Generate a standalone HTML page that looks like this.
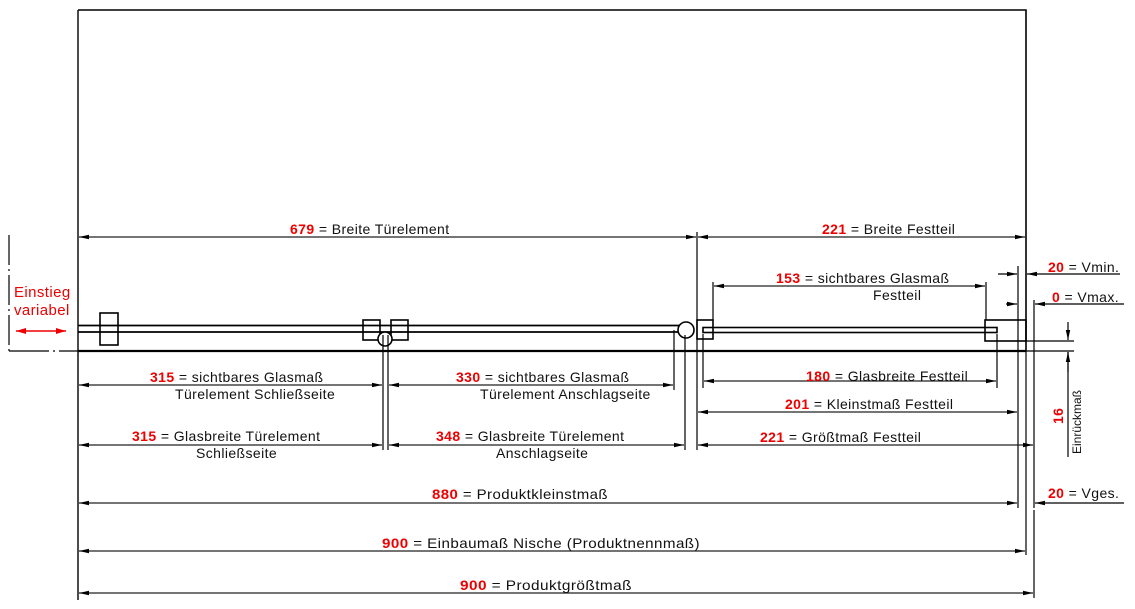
<!DOCTYPE html>
<html><head><meta charset="utf-8"><style>
html,body{margin:0;padding:0;background:#fff;}
svg{display:block;font-family:"Liberation Sans",sans-serif;}
.r{fill:#e00;font-weight:bold;}
text{font-size:14px;fill:#111;letter-spacing:0.4px;}
</style></head><body>
<svg width="1135" height="609" viewBox="0 0 1135 609" xmlns="http://www.w3.org/2000/svg">
<defs>
<marker id="a" viewBox="0 0 10 6" refX="10" refY="3" markerWidth="10" markerHeight="6" orient="auto-start-reverse" markerUnits="userSpaceOnUse"><path d="M0,0.8 L10,3 L0,5.2z" fill="#000"/></marker>
<marker id="ar" viewBox="0 0 10 6" refX="10" refY="3" markerWidth="10" markerHeight="6" orient="auto-start-reverse" markerUnits="userSpaceOnUse"><path d="M0,0 L10,3 L0,6z" fill="#e00"/></marker>
</defs>
<g fill="none" stroke="#000">
<path d="M78,10 H1026 V351" stroke-width="1.6"/>
<line x1="78" y1="10" x2="78" y2="600" stroke-width="1.4"/>
<line x1="78" y1="351" x2="1026" y2="351" stroke-width="2.2"/>
<line x1="1026" y1="351" x2="1026" y2="555" stroke-width="1.2"/>
<line x1="78" y1="325.5" x2="685" y2="325.5" stroke-width="1.8"/>
<line x1="78" y1="332" x2="685" y2="332" stroke-width="1.8"/>
<rect x="100" y="313" width="18" height="32" stroke-width="1.6"/>
<rect x="363" y="320" width="17" height="20" stroke-width="1.6"/>
<rect x="391" y="320" width="17" height="20" stroke-width="1.6"/>
<circle cx="385" cy="339" r="7" stroke-width="1.6" fill="#fff"/>
<circle cx="686" cy="330" r="8" stroke-width="1.6" fill="#fff"/>
<rect x="697" y="320" width="16" height="19" stroke-width="1.6"/>
<rect x="703" y="327.5" width="294" height="5" stroke-width="1.6"/>
<rect x="985" y="320" width="41" height="21" stroke-width="1.6"/>
<g stroke-width="1.2">
<line x1="383" y1="335" x2="383" y2="450"/><line x1="388" y1="335" x2="388" y2="450"/>
<line x1="674" y1="330" x2="674" y2="390"/>
<line x1="685" y1="335" x2="685" y2="450"/>
<line x1="697" y1="232" x2="697" y2="450"/>
<line x1="703" y1="334" x2="703" y2="388"/>
<line x1="713" y1="282" x2="713" y2="320"/>
<line x1="986" y1="282" x2="986" y2="320"/>
<line x1="997" y1="334" x2="997" y2="388"/>
<line x1="1018" y1="266" x2="1018" y2="508"/>
<line x1="1034" y1="300" x2="1034" y2="508"/>
<line x1="1034" y1="510" x2="1034" y2="598"/>
<line x1="1026" y1="341" x2="1074" y2="341"/><line x1="1026" y1="351" x2="1074" y2="351"/>
<line x1="1068" y1="322" x2="1068" y2="340" marker-end="url(#a)"/>
<line x1="1068" y1="372" x2="1068" y2="352" marker-end="url(#a)"/>
<line x1="1068" y1="352" x2="1068" y2="457"/>
<line x1="9" y1="235" x2="9" y2="352" stroke-dasharray="30,4,2,4"/>
<line x1="9" y1="351" x2="78" y2="351" stroke-dasharray="40,4,2,4"/>
</g>
<g stroke-width="1.3" stroke="#222" marker-start="url(#a)" marker-end="url(#a)">
<line x1="79" y1="237" x2="696" y2="237"/>
<line x1="698" y1="237" x2="1025" y2="237"/>
<line x1="714" y1="286" x2="985" y2="286"/>
<line x1="79" y1="385" x2="382" y2="385"/>
<line x1="389" y1="385" x2="673" y2="385"/>
<line x1="704" y1="381" x2="996" y2="381"/>
<line x1="698" y1="412" x2="1017" y2="412"/>
<line x1="79" y1="445" x2="382" y2="445"/>
<line x1="389" y1="445" x2="684" y2="445"/>
<line x1="698" y1="445" x2="1033" y2="445"/>
<line x1="79" y1="503" x2="1017" y2="503"/>
<line x1="79" y1="551" x2="1025" y2="551"/>
<line x1="79" y1="593" x2="1033" y2="593"/>
</g>
<g stroke-width="1.2">
<line x1="998" y1="274" x2="1017" y2="274" marker-end="url(#a)"/>
<line x1="1120" y1="274" x2="1027" y2="274" marker-end="url(#a)"/>
<line x1="1006" y1="304" x2="1017" y2="304" marker-end="url(#a)"/>
<line x1="1124" y1="304" x2="1035" y2="304" marker-end="url(#a)"/>
<line x1="1124" y1="503" x2="1035" y2="503" marker-end="url(#a)"/>
</g>
<line x1="16" y1="331" x2="66" y2="331" stroke="#e00" stroke-width="1.6" marker-start="url(#ar)" marker-end="url(#ar)"/>
</g>
<text x="14" y="297" style="fill:#e00;font-size:15px">Einstieg</text>
<text x="14" y="315" style="fill:#e00;font-size:15px">variabel</text>
<text x="290" y="234"><tspan class="r">679</tspan>  = Breite Türelement</text>
<text x="822" y="234"><tspan class="r">221</tspan> = Breite Festteil</text>
<text x="776" y="283"><tspan class="r">153</tspan>  = sichtbares Glasmaß</text>
<text x="873" y="300">Festteil</text>
<text x="1048" y="272"><tspan class="r">20</tspan> = Vmin.</text>
<text x="1052" y="302"><tspan class="r">0</tspan>   = Vmax.</text>
<text x="150" y="382"><tspan class="r">315</tspan>  = sichtbares Glasmaß</text>
<text x="175" y="399">Türelement  Schließseite</text>
<text x="456" y="382"><tspan class="r">330</tspan>  = sichtbares Glasmaß</text>
<text x="480" y="399">Türelement  Anschlagseite</text>
<text x="806" y="381"><tspan class="r">180</tspan>  = Glasbreite Festteil</text>
<text x="785" y="409"><tspan class="r">201</tspan>  = Kleinstmaß Festteil</text>
<text x="132" y="441"><tspan class="r">315</tspan> = Glasbreite Türelement</text>
<text x="196" y="458">Schließseite</text>
<text x="436" y="441"><tspan class="r">348</tspan> = Glasbreite Türelement</text>
<text x="496" y="458">Anschlagseite</text>
<text x="760" y="442"><tspan class="r">221</tspan>  = Größtmaß Festteil</text>
<text x="432" y="499" textLength="176" lengthAdjust="spacingAndGlyphs"><tspan class="r">880</tspan>  = Produktkleinstmaß</text>
<text x="1048" y="498"><tspan class="r">20</tspan> = Vges.</text>
<text x="382" y="548" textLength="318" lengthAdjust="spacingAndGlyphs"><tspan class="r">900</tspan>  = Einbaumaß Nische (Produktnennmaß)</text>
<text x="460" y="590" textLength="172" lengthAdjust="spacingAndGlyphs"><tspan class="r">900</tspan>  = Produktgrößtmaß</text>
<text transform="translate(1063,424) rotate(-90)" class="r">16</text>
<text transform="translate(1081,454) rotate(-90)" style="font-size:12px;letter-spacing:0">Einrückmaß</text>
</svg>
</body></html>
